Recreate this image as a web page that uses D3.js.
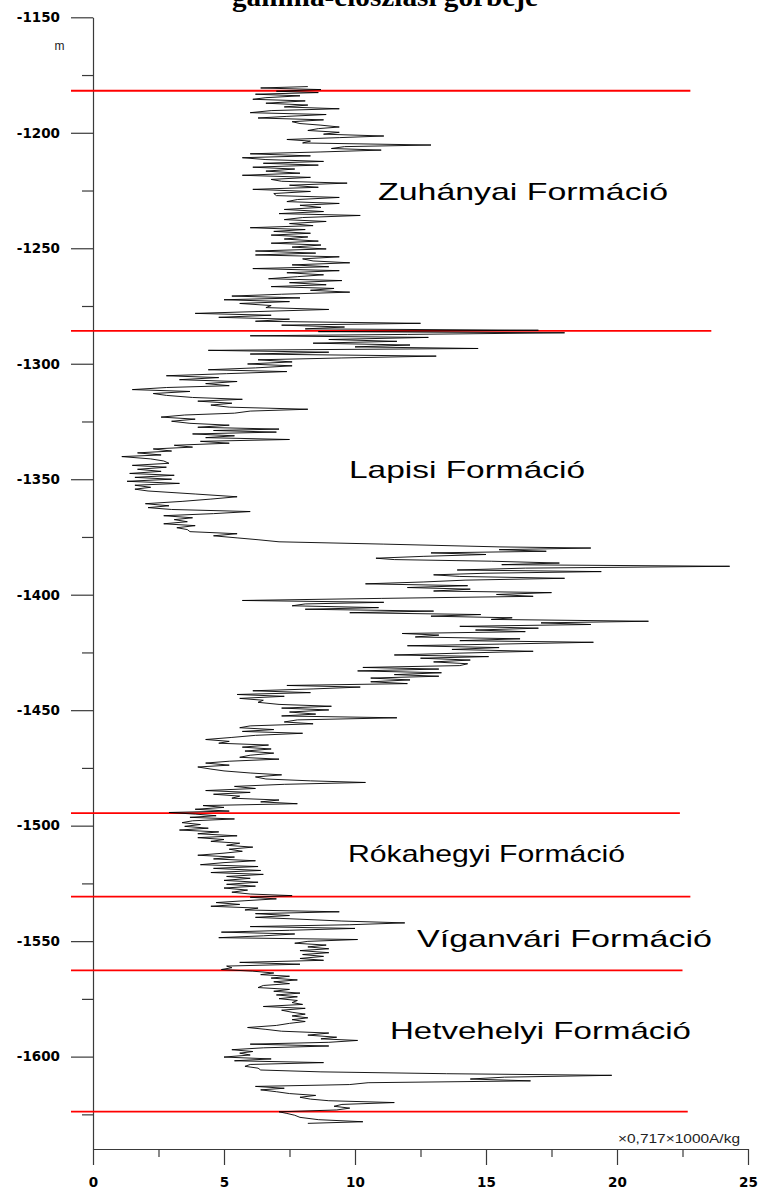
<!DOCTYPE html>
<html>
<head>
<meta charset="utf-8">
<script src="https://cdn.jsdelivr.net/npm/d3@7"></script>
<style>
  html, body { margin: 0; padding: 0; background: #fff; }
  svg { display: block; }
</style>
</head>
<body>
<svg id="chart" width="762" height="1191"></svg>
<script>
// ---- data -------------------------------------------------------------
const titleText = "gamma-eloszlási görbéje";
const depthUnit = "m";
const valueUnit = "\u00d70,717\u00d71000A/kg";

const depthMajorTicks = [-1150, -1200, -1250, -1300, -1350, -1400, -1450, -1500, -1550, -1600];
const depthMinorTicks = [-1175, -1225, -1275, -1325, -1375, -1425, -1475, -1525, -1575, -1625];
const valueMajorTicks = [0, 5, 10, 15, 20, 25];
const valueMinorTicks = [2.5, 7.5, 12.5, 17.5, 22.5];

const formationNames = ["Zuhányai Formáció", "Lapisi Formáció", "Rókahegyi Formáció", "Víganvári Formáció", "Hetvehelyi Formáció"];
// formation boundaries (m) and the reach of each boundary line on the value axis
const boundaryDepths = [-1181.8, -1285.8, -1494.6, -1530.7, -1562.7, -1623.8];
const boundaryReach  = [22.8, 23.6, 22.4, 22.8, 22.5, 22.7];

// gamma log samples: depth (m) and reading
const depth = [
  -1180.0,-1180.6,-1181.3,-1182.0,-1182.6,-1183.3,-1184.0,-1184.8,-1185.5,-1186.2,-1187.2,-1188.0,-1188.8,-1189.6,-1190.4,
  -1191.3,-1192.1,-1192.9,-1193.6,-1194.4,-1195.2,-1196.0,-1196.7,-1197.5,-1198.2,-1199.0,-1199.8,-1200.6,-1201.4,-1202.1,
  -1202.9,-1203.6,-1204.4,-1205.3,-1206.0,-1206.8,-1207.5,-1208.3,-1209.1,-1210.0,-1210.8,-1211.6,-1212.4,-1213.2,-1214.0,
  -1214.9,-1215.7,-1216.6,-1217.5,-1218.4,-1219.3,-1220.2,-1221.0,-1221.8,-1222.7,-1223.6,-1224.5,-1225.4,-1226.3,-1227.2,
  -1228.0,-1228.9,-1229.8,-1230.6,-1231.4,-1232.3,-1233.2,-1234.1,-1235.0,-1235.8,-1236.7,-1237.6,-1238.4,-1239.3,-1240.2,
  -1241.1,-1241.9,-1242.7,-1243.5,-1244.3,-1245.1,-1246.0,-1246.9,-1247.8,-1248.6,-1249.5,-1250.3,-1251.2,-1252.1,-1252.9,
  -1253.7,-1254.6,-1255.5,-1256.3,-1257.2,-1258.0,-1258.8,-1259.7,-1260.6,-1261.5,-1262.3,-1263.2,-1264.0,-1264.9,-1265.8,
  -1266.6,-1267.4,-1268.2,-1269.0,-1269.9,-1270.7,-1271.5,-1272.3,-1273.1,-1273.9,-1274.8,-1275.7,-1276.5,-1277.4,-1278.2,
  -1279.0,-1279.9,-1280.7,-1281.6,-1282.5,-1283.3,-1284.1,-1284.9,-1285.5,-1286.1,-1286.6,-1287.3,
  -1287.9,-1288.6,-1289.5,-1290.3,-1291.1,-1291.9,-1292.7,-1293.4,-1294.2,-1295.0,-1295.8,-1296.7,-1297.5,-1298.3,-1299.2,
  -1300.1,-1300.9,-1301.8,-1302.6,-1303.4,-1304.3,-1305.2,-1306.0,-1306.9,-1307.7,-1308.6,-1309.5,-1310.3,-1311.2,-1312.0,
  -1312.9,-1313.7,-1314.6,-1315.4,-1316.2,-1317.1,-1317.9,-1318.8,-1319.7,-1320.5,-1321.4,-1322.2,-1323.1,-1324.0,-1324.9,
  -1325.8,-1326.6,-1327.5,-1328.3,-1328.9,-1329.6,-1330.4,-1331.2,-1332.0,-1332.8,-1333.6,-1334.4,-1335.3,-1336.1,-1336.9,
  -1337.8,-1338.6,-1339.5,-1340.2,-1341.2,-1342.1,-1343.1,-1344.0,-1344.8,-1345.7,-1346.6,-1347.5,-1348.3,-1349.2,-1350.0,
  -1350.9,-1351.8,-1352.6,-1353.5,-1354.3,-1355.1,-1356.4,-1357.6,-1358.6,-1359.6,-1360.6,-1361.5,-1362.3,-1363.1,-1364.0,
  -1364.9,-1365.8,-1366.7,-1367.5,-1368.4,-1369.3,-1370.1,-1371.0,-1371.8,-1372.7,-1373.6,-1374.5,-1375.4,-1376.2,-1377.1,
  -1378.1,-1379.3,-1379.8,-1380.5,-1381.2,-1381.9,-1382.6,-1383.4,-1384.2,-1384.8,-1385.5,-1386.3,-1387.0,-1387.7,-1388.5,
  -1389.3,-1390.0,-1390.7,-1391.4,-1392.1,-1392.9,-1393.7,-1394.5,-1395.3,-1396.1,-1396.9,-1397.6,-1398.4,-1399.1,-1399.9,
  -1400.7,-1401.6,-1402.5,-1403.3,-1404.0,-1404.8,-1405.6,-1406.3,-1407.1,-1407.8,-1408.6,-1409.3,-1410.0,-1410.7,-1411.5,
  -1412.2,-1412.9,-1413.7,-1414.5,-1415.3,-1416.0,-1416.8,-1417.5,-1418.3,-1419.1,-1419.9,-1420.6,-1421.4,-1422.1,-1422.9,
  -1423.7,-1424.5,-1425.3,-1426.1,-1426.8,-1427.5,-1428.3,-1429.1,-1429.9,-1430.7,-1431.5,-1432.2,-1433.0,-1433.8,-1434.6,
  -1435.3,-1436.1,-1436.9,-1437.7,-1438.5,-1439.3,-1440.0,-1440.8,-1441.6,-1442.4,-1443.2,-1444.0,-1444.9,-1445.7,-1446.6,
  -1447.5,-1448.3,-1449.1,-1449.9,-1450.8,-1451.7,-1452.5,-1453.3,-1454.2,-1455.1,-1455.9,-1456.8,-1457.6,-1458.4,-1459.2,
  -1460.0,-1460.9,-1461.8,-1462.7,-1463.5,-1464.3,-1465.1,-1466.0,-1466.8,-1467.7,-1468.6,-1469.5,-1470.4,-1471.2,-1472.1,
  -1472.9,-1473.8,-1474.6,-1475.5,-1476.3,-1477.2,-1478.0,-1478.9,-1479.8,-1480.6,-1481.3,-1482.1,-1483.0,-1483.9,-1484.8,
  -1485.6,-1486.4,-1487.2,-1488.1,-1488.9,-1489.7,-1490.5,-1491.3,-1492.1,-1492.9,-1493.7,
  -1494.3,-1495.0,-1495.7,-1496.4,-1497.1,-1497.9,-1498.7,-1499.5,-1500.3,-1501.1,-1501.9,-1502.7,-1503.5,-1504.4,-1505.2,
  -1506.0,-1506.8,-1507.6,-1508.5,-1509.3,-1510.2,-1511.1,-1511.9,-1512.8,-1513.6,-1514.4,-1515.2,-1516.0,-1516.9,-1517.7,
  -1518.5,-1519.4,-1520.3,-1521.1,-1522.0,-1522.8,-1523.7,-1524.5,-1525.4,-1526.2,-1527.0,-1527.9,-1528.8,-1529.6,
  -1530.3,-1531.0,-1531.7,-1532.5,-1533.3,-1534.1,-1534.9,-1535.7,-1536.5,-1537.3,-1538.1,-1538.9,-1539.7,-1540.5,-1541.3,
  -1542.1,-1542.9,-1543.7,-1544.5,-1545.3,-1546.1,-1546.9,-1547.7,-1548.5,-1549.3,-1550.1,-1550.9,-1551.7,-1552.5,-1553.3,
  -1554.1,-1555.0,-1555.8,-1556.6,-1557.5,-1558.3,-1559.2,-1560.0,-1560.8,-1561.5,-1562.3,
  -1563.0,-1563.8,-1564.5,-1565.2,-1566.0,-1566.8,-1567.6,-1568.4,-1569.2,-1570.1,-1570.9,-1571.7,-1572.5,-1573.3,-1574.1,
  -1574.9,-1575.7,-1576.6,-1577.4,-1578.3,-1579.1,-1579.9,-1580.8,-1581.6,-1582.4,-1583.2,-1584.0,-1584.8,-1585.6,-1586.5,
  -1587.4,-1588.2,-1589.0,-1589.8,-1590.7,-1591.6,-1592.3,-1593.0,-1593.8,-1594.6,-1595.4,-1596.2,-1597.0,-1597.8,-1598.5,
  -1599.3,-1600.2,-1601.0,-1601.8,-1602.6,-1603.4,-1604.2,-1605.0,-1605.8,-1606.6,-1607.4,-1608.1,-1608.9,-1609.7,-1610.5,
  -1611.3,-1612.1,-1612.9,-1613.7,-1614.4,-1615.2,-1616.0,-1616.8,-1617.6,-1618.4,-1619.1,-1619.9,-1620.7,-1621.5,-1622.3,
  -1623.1,-1623.9,-1624.6,-1625.4,-1626.3,-1627.3,-1628.2,-1628.9
];
const gamma = [
  8.2,6.4,8.7,7.0,8.6,6.2,7.9,6.6,6.1,8.1,6.6,8.2,7.3,9.4,6.8,
  6.0,8.9,7.4,6.3,8.8,7.6,7.9,8.7,9.4,8.6,8.2,9.4,8.8,11.1,9.4,
  7.4,8.3,8.0,12.9,9.6,9.1,11.0,8.7,6.0,8.3,5.7,6.6,8.8,6.5,8.6,
  6.1,7.7,6.6,7.9,5.7,8.3,6.8,7.2,9.7,7.5,8.6,6.1,8.3,6.9,7.0,
  9.4,7.8,7.4,9.4,7.9,8.7,7.3,8.8,7.1,10.2,8.0,7.3,8.9,7.5,8.4,
  6.0,8.1,6.9,8.3,6.8,8.2,7.3,8.6,6.8,8.7,7.6,8.9,6.2,8.5,6.2,
  9.4,8.0,8.4,9.8,7.6,9.0,6.1,9.4,7.4,8.8,7.8,6.7,9.5,7.5,8.9,
  6.8,9.2,8.3,9.8,7.2,5.3,7.9,5.0,7.5,5.6,6.8,6.6,9.0,6.3,3.9,
  6.8,4.8,7.5,6.2,12.5,7.2,9.6,8.1,17.0,8.6,18.0,12.0,
  6.0,12.8,9.0,11.6,8.4,12.1,10.0,14.7,4.4,9.0,6.0,13.1,9.5,6.3,7.6,
  5.9,7.6,6.2,4.4,7.4,5.1,2.8,4.8,3.3,5.5,4.3,5.2,2.8,1.5,3.7,
  2.3,2.8,3.8,5.7,4.0,5.3,4.5,5.2,8.2,6.0,5.4,3.5,2.6,3.9,3.0,
  3.7,5.2,4.0,7.1,4.6,7.0,3.8,5.4,4.3,7.5,4.1,5.2,3.1,3.8,2.3,
  3.0,1.7,2.6,1.1,2.2,2.7,2.9,1.5,2.8,1.7,2.6,1.4,3.1,1.6,3.0,
  1.3,3.3,1.6,2.2,1.6,2.1,3.9,5.5,4.5,3.4,2.0,2.9,2.1,3.0,6.0,
  4.6,2.7,3.8,3.1,3.6,2.7,3.9,3.2,3.6,3.7,5.5,4.6,5.5,6.3,7.1,
  11.1,15.5,19.0,15.5,17.3,12.9,15.0,12.6,10.8,11.5,15.2,17.8,15.6,24.3,16.5,
  13.9,19.4,15.0,13.0,14.0,18.0,14.2,12.6,10.4,14.3,12.0,14.4,13.0,17.5,15.4,
  16.8,11.0,5.7,11.1,8.1,7.6,10.9,8.1,13.0,9.8,14.8,12.9,16.0,15.2,21.2,
  17.1,19.0,14.0,17.0,14.6,16.5,11.8,13.2,12.3,16.3,14.0,19.1,15.5,12.0,15.5,
  13.7,16.8,14.0,11.5,15.1,12.5,14.4,13.0,14.3,14.0,10.3,13.2,10.1,13.3,11.5,
  13.2,10.6,12.1,10.6,12.0,7.4,10.2,8.4,6.1,8.3,5.5,7.3,5.6,6.5,6.3,
  7.1,9.1,7.2,9.0,7.5,8.5,7.2,11.6,7.8,7.3,8.4,6.0,5.6,6.9,5.7,
  8.0,6.2,5.3,4.3,5.2,4.8,6.7,5.7,6.8,5.8,6.9,6.0,5.6,7.1,5.2,
  4.3,5.2,4.0,4.5,5.0,6.0,7.2,6.2,6.6,8.3,10.4,7.3,5.4,6.2,4.3,
  6.0,4.6,5.6,5.3,7.1,6.4,7.8,4.2,5.0,3.9,5.2,
  2.9,3.9,4.7,3.7,5.4,3.8,3.4,4.1,3.5,4.4,3.3,4.8,4.0,5.5,4.0,
  5.0,4.5,5.6,5.1,6.1,5.2,5.7,5.0,4.0,5.4,4.6,6.2,5.0,4.1,6.3,
  4.6,6.4,4.5,6.5,5.1,6.0,5.0,6.3,5.1,6.2,5.0,5.9,5.3,6.0,
  7.6,6.0,7.0,5.8,4.7,5.6,4.5,6.3,5.8,9.4,6.2,7.5,6.2,7.9,9.5,
  11.9,9.8,6.0,10.0,7.5,4.9,7.7,6.5,4.8,10.1,8.2,7.7,8.9,8.2,9.0,
  7.9,9.0,8.0,8.8,7.9,8.8,5.6,7.9,5.1,5.3,4.9,
  6.1,6.9,6.4,7.5,6.8,7.8,6.9,7.5,6.5,6.3,7.5,6.9,7.9,7.0,7.8,
  7.1,7.8,7.6,8.0,6.5,8.1,7.2,7.6,8.1,7.6,8.2,7.6,8.1,7.5,7.0,
  5.9,6.6,7.2,9.0,8.2,9.3,8.7,10.1,9.0,6.0,9.0,6.5,5.3,6.1,5.6,
  6.0,5.0,6.8,5.4,8.8,6.0,5.8,6.3,6.4,8.7,13.5,19.8,15.7,14.4,16.7,
  10.5,9.8,6.2,7.3,6.4,7.0,7.5,8.5,7.9,8.3,9.0,11.5,9.5,9.2,9.8,
  9.3,7.1,7.4,7.7,7.9,8.6,10.3,8.2
];

// ---- layout -----------------------------------------------------------
const W = 762, H = 1191;
const plotLeft = 93, plotRight = 748, plotTop = 17.3, plotBottom = 1149;
const majorTickLen = 22, minorTickLen = 11;
const labelLayout = [
  { x: 378, y: 200, w: 290 },
  { x: 349, y: 478, w: 236 },
  { x: 348, y: 862, w: 277 },
  { x: 417, y: 947, w: 295 },
  { x: 390, y: 1039, w: 301 }
];

const svg = d3.select("#chart");
svg.append("rect").attr("width", W).attr("height", H).attr("fill", "#fff");

const x = d3.scaleLinear().domain([0, 25]).range([plotLeft, plotRight]);
const y = d3.scaleLinear().domain([-1150, -1640]).range([plotTop, plotBottom]);

const axisColor = "#3a3a3a";
const tickFont = "'DejaVu Sans', Verdana, sans-serif";
const textFont = "'Liberation Sans', Arial, sans-serif";

// depth axis (left)
const yAxisMajor = d3.axisLeft(y)
  .tickValues(depthMajorTicks)
  .tickSize(majorTickLen)
  .tickSizeOuter(0)
  .tickPadding(11)
  .tickFormat(d => String(d));
const gY = svg.append("g").attr("transform", `translate(${plotLeft},0)`).call(yAxisMajor);
const yAxisMinor = d3.axisLeft(y).tickValues(depthMinorTicks).tickSize(minorTickLen).tickFormat("");
const gY2 = svg.append("g").attr("transform", `translate(${plotLeft},0)`).call(yAxisMinor);
gY2.select(".domain").remove();

// value axis (bottom)
const xAxisMajor = d3.axisBottom(x)
  .tickValues(valueMajorTicks)
  .tickSize(16)
  .tickSizeOuter(0)
  .tickPadding(12)
  .tickFormat(d => String(d));
const gX = svg.append("g").attr("transform", `translate(0,${plotBottom})`).call(xAxisMajor);
const xAxisMinor = d3.axisBottom(x).tickValues(valueMinorTicks).tickSize(8).tickFormat("");
const gX2 = svg.append("g").attr("transform", `translate(0,${plotBottom})`).call(xAxisMinor);
gX2.select(".domain").remove();

[gY, gY2, gX, gX2].forEach(g => {
  g.selectAll("path, line").attr("stroke", axisColor).attr("stroke-width", 1.2);
  g.selectAll("text")
    .attr("fill", "#000")
    .style("font-family", tickFont)
    .style("font-weight", "bold")
    .style("font-size", "13.5px");
});

// formation boundaries
svg.append("g").selectAll("line")
  .data(boundaryDepths)
  .join("line")
  .attr("x1", x(0) - majorTickLen)
  .attr("x2", (d, i) => x(boundaryReach[i]))
  .attr("y1", d => y(d))
  .attr("y2", d => y(d))
  .attr("stroke", "#ff0000")
  .attr("stroke-width", 1.8);

// gamma curve
const samples = depth.map((d, i) => ({ depth: d, value: gamma[i] }));
const line = d3.line().x(d => x(d.value)).y(d => y(d.depth));
svg.append("path")
  .datum(samples)
  .attr("d", line)
  .attr("fill", "none")
  .attr("stroke", "#000")
  .attr("stroke-width", 0.9)
  .attr("stroke-linejoin", "miter");

// formation names
svg.append("g").selectAll("text")
  .data(formationNames)
  .join("text")
  .attr("x", (d, i) => labelLayout[i].x)
  .attr("y", (d, i) => labelLayout[i].y)
  .attr("textLength", (d, i) => labelLayout[i].w)
  .attr("lengthAdjust", "spacingAndGlyphs")
  .style("font-family", textFont)
  .style("font-size", "24px")
  .attr("fill", "#000")
  .text(d => d);

// units
svg.append("text")
  .attr("x", 59.5).attr("y", 50)
  .attr("text-anchor", "middle")
  .style("font-family", textFont)
  .style("font-size", "12px")
  .attr("fill", "#222")
  .text(depthUnit);

svg.append("text")
  .attr("x", 618).attr("y", 1143)
  .attr("textLength", 122)
  .attr("lengthAdjust", "spacingAndGlyphs")
  .style("font-family", textFont)
  .style("font-size", "12px")
  .attr("fill", "#222")
  .text(valueUnit);

// title (its upper part runs above the page edge)
svg.append("text")
  .attr("x", 232).attr("y", 6)
  .attr("textLength", 306)
  .attr("lengthAdjust", "spacingAndGlyphs")
  .style("font-family", "'Liberation Serif', 'Times New Roman', serif")
  .style("font-weight", "bold")
  .style("font-size", "27px")
  .attr("fill", "#000")
  .text(titleText);
</script>
</body>
</html>
